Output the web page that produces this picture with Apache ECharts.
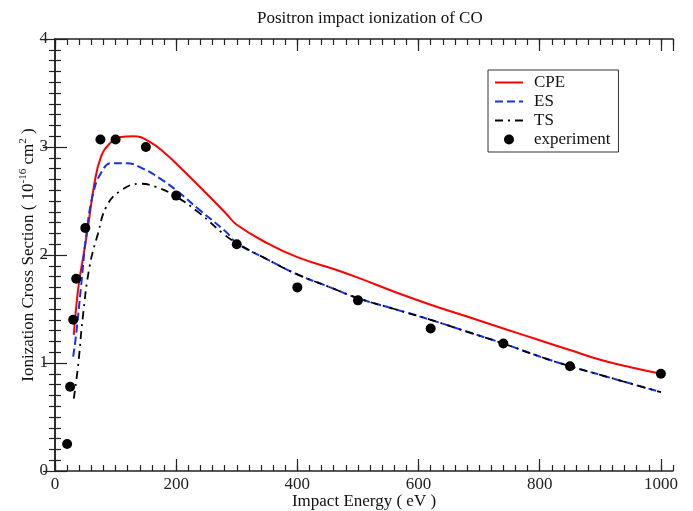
<!DOCTYPE html>
<html><head><meta charset="utf-8">
<script src="https://cdn.jsdelivr.net/npm/echarts@6/dist/echarts.min.js"></script>
<style>html,body{margin:0;padding:0;background:#fff}#c{width:693px;height:511px}</style>
</head><body><div id="c"></div>
<script>
// ---- data ----
const titleText = 'Positron impact ionization of CO';
const seriesNames = ['CPE', 'ES', 'TS', 'experiment'];

const cpeX = [31, 35, 40, 45, 50, 55, 65, 76, 90, 106, 130, 156, 184, 205, 250, 283, 300, 350, 400, 460, 500, 560, 620, 680, 740, 800, 850, 900, 950, 1000];
const cpeY = [1.26, 1.52, 1.76, 1.93, 2.10, 2.28, 2.66, 2.91, 3.03, 3.09, 3.10, 3.05, 2.93, 2.82, 2.57, 2.38, 2.28, 2.11, 1.98, 1.87, 1.79, 1.66, 1.54, 1.43, 1.32, 1.21, 1.12, 1.03, 0.96, 0.90];

const esX = [30, 35, 43, 52, 63, 76, 93, 118, 145, 173, 200, 238, 283, 300, 350, 400, 450, 500, 560, 620, 680, 740, 800, 850, 900, 950, 1000];
const esY = [1.06, 1.27, 1.71, 2.20, 2.57, 2.76, 2.85, 2.85, 2.80, 2.71, 2.60, 2.42, 2.21, 2.11, 1.96, 1.82, 1.71, 1.60, 1.50, 1.40, 1.29, 1.18, 1.06, 0.97, 0.89, 0.81, 0.73];

const tsX = [31, 38, 46, 57, 71, 85, 107, 140, 167, 200, 238, 277, 300, 350, 400, 450, 500, 560, 620, 680, 740, 800, 850, 900, 950, 1000];
const tsY = [0.67, 0.97, 1.43, 1.89, 2.20, 2.45, 2.59, 2.66, 2.63, 2.54, 2.39, 2.20, 2.11, 1.96, 1.82, 1.71, 1.60, 1.50, 1.40, 1.29, 1.18, 1.06, 0.97, 0.89, 0.81, 0.73];

const expX = [20, 25, 30, 35, 50, 75, 100, 150, 200, 300, 400, 500, 620, 740, 850, 1000];
const expY = [0.25, 0.78, 1.40, 1.78, 2.25, 3.07, 3.07, 3.00, 2.55, 2.10, 1.70, 1.58, 1.32, 1.18, 0.97, 0.90];

const xMin = 0, xMax = 1020, xMajor = 200, xMinor = 20;
const yMin = 0, yMax = 4, yMajor = 1;

// ---- chart ----
const zip = (xs, ys) => xs.map((x, i) => [x, ys[i]]);
const F = 'Liberation Serif';
const AX = '#222';
const lineSt = { color: AX, width: 1.5 };
const tickSt = { color: AX, width: 1.2 };
const plain = v => String(v);
const hideDot = { color: 'rgba(0,0,0,0)', borderWidth: 0, opacity: 0 };

const xCommon = { type: 'value', min: xMin, max: xMax, splitLine: { show: false } };
const yCommon = { type: 'value', min: yMin, max: yMax, interval: yMajor, splitLine: { show: false },
  minorTick: { show: true, splitNumber: 10, length: 6, lineStyle: tickSt }, minorSplitLine: { show: false } };

const chart = echarts.init(document.getElementById('c'));
chart.setOption({
  animation: false,
  backgroundColor: '#fff',
  title: { text: titleText, left: 252, top: 5,
    textStyle: { fontFamily: F, fontSize: 17, fontWeight: 'normal', color: '#111' } },
  grid: { left: 55, right: 20, top: 39, bottom: 40, containLabel: false, outerBoundsMode: 'none' },
  legend: {
    orient: 'vertical', left: 488, top: 70,
    data: [
      { name: seriesNames[0], itemStyle: hideDot },
      { name: seriesNames[1], itemStyle: hideDot },
      { name: seriesNames[2], itemStyle: hideDot },
      { name: seriesNames[3] }
    ],
    itemWidth: 28, itemHeight: 10, itemGap: 2, padding: [4, 8, 4, 6],
    borderColor: '#333', borderWidth: 1, backgroundColor: '#fff',
    textStyle: { fontFamily: F, fontSize: 17, color: '#111', padding: [0, 0, 0, 6] }
  },
  xAxis: [
    Object.assign({}, xCommon, { position: 'bottom', interval: xMajor,
      axisLine: { show: true, lineStyle: lineSt },
      axisTick: { show: true, inside: true, length: 12, lineStyle: tickSt },
      axisLabel: { showMaxLabel: false, fontFamily: F, fontSize: 17, color: AX, margin: 5, formatter: plain },
      name: 'Impact Energy ( eV )', nameLocation: 'middle', nameGap: 22, nameMoveOverlap: false,
      nameTextStyle: { fontFamily: F, fontSize: 17, color: '#111' } }),
    Object.assign({}, xCommon, { position: 'bottom', interval: xMinor,
      axisLine: { show: false }, axisTick: { show: true, inside: true, length: 6, lineStyle: tickSt },
      axisLabel: { show: false } }),
    Object.assign({}, xCommon, { position: 'top', interval: xMajor,
      axisLine: { show: true, lineStyle: lineSt },
      axisTick: { show: true, inside: true, length: 12, lineStyle: tickSt },
      axisLabel: { show: false } }),
    Object.assign({}, xCommon, { position: 'top', interval: xMinor,
      axisLine: { show: false }, axisTick: { show: true, inside: true, length: 6, lineStyle: tickSt },
      axisLabel: { show: false } })
  ],
  yAxis: [
    Object.assign({}, yCommon, { position: 'left',
      axisLine: { show: true, lineStyle: lineSt },
      axisTick: { show: true, inside: true, length: 12, lineStyle: tickSt },
      axisLabel: { fontFamily: F, fontSize: 17, color: AX, margin: 7, formatter: plain },
      name: 'Ionization Cross Section ( 10{sup|-16} cm{sup|2} )',
      nameLocation: 'middle', nameGap: 16, nameMoveOverlap: false,
      nameTextStyle: { fontFamily: F, fontSize: 17, color: '#111',
        rich: { sup: { fontFamily: F, fontSize: 11, color: '#111', padding: [0, 0, 10, 0] } } } }),
    Object.assign({}, yCommon, { position: 'right',
      axisLine: { show: true, lineStyle: lineSt },
      axisTick: { show: true, inside: true, length: 12, lineStyle: tickSt },
      axisLabel: { show: false } })
  ],
  series: [
    { name: 'CPE', type: 'line', data: zip(cpeX, cpeY), symbol: 'none', smooth: 0.45,
      lineStyle: { color: '#ff0000', width: 2 }, itemStyle: { color: '#ff0000' }, z: 3 },
    { name: 'ES', type: 'line', data: zip(esX, esY), symbol: 'none', smooth: 0.45,
      lineStyle: { color: '#1530f0', width: 2, type: [8, 4] }, itemStyle: { color: '#1530f0' }, z: 3 },
    { name: 'TS', type: 'line', data: zip(tsX, tsY), symbol: 'none', smooth: 0.45,
      lineStyle: { color: '#000', width: 1.8, type: [8, 5, 2, 5] }, itemStyle: { color: '#000' }, z: 4 },
    { name: 'experiment', type: 'scatter', data: zip(expX, expY), symbol: 'circle', symbolSize: 10,
      itemStyle: { color: '#000', opacity: 1 }, z: 5 }
  ]
});
</script>
</body></html>
